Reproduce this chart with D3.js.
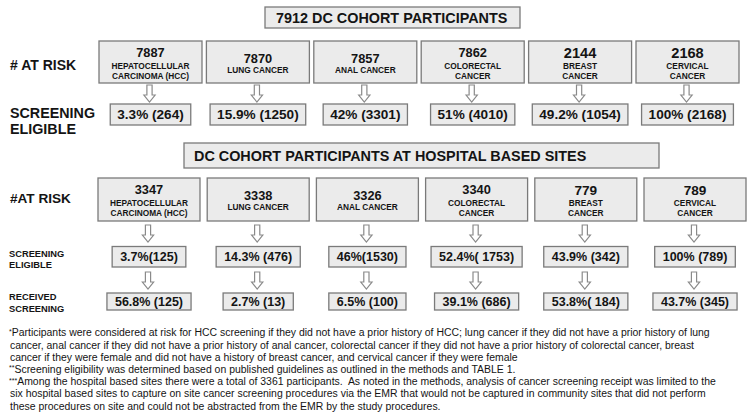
<!DOCTYPE html>
<html>
<head>
<meta charset="utf-8">
<script src="https://cdn.jsdelivr.net/npm/d3@7"></script>
<style>
  html, body { margin: 0; padding: 0; background: #fff; }
  svg { display: block; font-family: "Liberation Sans", Arial, sans-serif; }
</style>
</head>
<body>
<svg id="chart" width="750" height="414"></svg>
<script>
// ---------------- DATA ----------------
const categories = ["HCC", "Lung", "Anal", "Colorectal", "Breast", "Cervical"];
const categoryNames = [
  ["HEPATOCELLULAR", "CARCINOMA (HCC)"],
  ["LUNG CANCER"],
  ["ANAL CANCER"],
  ["COLORECTAL", "CANCER"],
  ["BREAST", "CANCER"],
  ["CERVICAL", "CANCER"]
];
const femaleOnly = [false, false, false, false, true, true];

const cohortTitle = "7912 DC COHORT PARTICIPANTS";
const atRiskAll = [7887, 7870, 7857, 7862, 2144, 2168];
const eligibleAll = ["3.3% (264)", "15.9% (1250)", "42% (3301)", "51% (4010)", "49.2% (1054)", "100% (2168)"];

const hospitalTitle = "DC COHORT PARTICIPANTS AT HOSPITAL BASED SITES";
const atRiskHospital = [3347, 3338, 3326, 3340, 779, 789];
const eligibleHospital = ["3.7%(125)", "14.3% (476)", "46%(1530)", "52.4%( 1753)", "43.9% (342)", "100% (789)"];
const receivedHospital = ["56.8% (125)", "2.7% (13)", "6.5% (100)", "39.1% (686)", "53.8%( 184)", "43.7% (345)"];

const rowLabelsTop = [["# AT RISK"], ["SCREENING", "ELIGIBLE"]];
const rowLabelsBottom = [["#AT RISK"], ["SCREENING", "ELIGIBLE"], ["RECEIVED", "SCREENING"]];

const footnotes = [
  ["*", "Participants were considered at risk for HCC screening if they did not have a prior history of HCC; lung cancer if they did not have a prior history of lung"],
  ["", "cancer, anal cancer if they did not have a prior history of anal cancer, colorectal cancer if they did not have a prior history of colorectal cancer, breast"],
  ["", "cancer if they were female and did not have a history of breast cancer, and cervical cancer if they were female"],
  ["**", "Screening eligibility was determined based on published guidelines as outlined in the methods and TABLE 1."],
  ["***", "Among the hospital based sites there were a total of 3361 participants.\u00a0 As noted in the methods, analysis of cancer screening receipt was limited to the"],
  ["", "six hospital based sites to capture on site cancer screening procedures via the EMR that would not be captured in community sites that did not perform"],
  ["", "these procedures on site and could not be abstracted from the EMR by the study procedures."]
];

// ---------------- STYLE ----------------
const FILL = "#ebebeb", STROKE = "#7a7a7a", INK = "#141414", ARROW = "#8a8a8a";

const svg = d3.select("#chart");
const g = svg.append("g");

const x1 = d3.scaleBand().domain(categories).range([99, 739]).paddingInner(0.041);
const x2 = d3.scaleBand().domain(categories).range([98, 746]).paddingInner(0.066);
const cx = (sc, c) => sc(c) + sc.bandwidth() / 2;

function txt(parent, x, y, s, size, weight, anchor) {
  return parent.append("text").attr("x", x).attr("y", y)
    .attr("font-size", size).attr("font-weight", weight || "bold")
    .attr("text-anchor", anchor || "middle").attr("fill", INK).text(s);
}
function rect(parent, x, y, w, h) {
  return parent.append("rect").attr("x", x).attr("y", y).attr("width", w).attr("height", h)
    .attr("fill", FILL).attr("stroke", STROKE).attr("stroke-width", 1.3);
}
// hollow down arrow
function arrow(parent, x, y0, y1) {
  const sw = 2.6, hw = 5.6, hh = 7;
  const yh = y1 - hh;
  const pts = [[x - sw, y0], [x + sw, y0], [x + sw, yh], [x + hw, yh], [x, y1], [x - hw, yh], [x - sw, yh]];
  parent.append("path").attr("d", d3.line()(pts) + "Z")
    .attr("fill", "#fff").attr("stroke", ARROW).attr("stroke-width", 1.2).attr("stroke-linejoin", "miter");
}
// box sized to its text
function labelBox(parent, x, yTop, h, s, size, pad) {
  const gg = parent.append("g");
  const t = txt(gg, x, yTop + h / 2 + size * 0.36, s, size);
  const w = t.node().getComputedTextLength() + pad * 2;
  gg.insert("rect", "text").attr("x", x - w / 2).attr("y", yTop).attr("width", w).attr("height", h)
    .attr("fill", FILL).attr("stroke", STROKE).attr("stroke-width", 1.3);
}
// at-risk box
function riskBox(parent, sc, c, i, yTop, h, n, numSize) {
  const x0 = sc(c), w = sc.bandwidth(), xc = cx(sc, c);
  rect(parent, x0, yTop, w, h);
  const lines = categoryNames[i];
  if (lines.length === 2) {
    txt(parent, xc, yTop + 16.2 + (numSize - 12.8) * 0.6, n, numSize);
    txt(parent, xc, yTop + 27.6, lines[0], 8.3);
    txt(parent, xc, yTop + 37.6, lines[1], 8.3);
  } else {
    txt(parent, xc, yTop + 21.5, n, numSize);
    txt(parent, xc, yTop + 31.8, lines[0], 8.3);
  }
}

// ---------------- TOP SECTION ----------------
rect(g, 265, 7, 255, 21);
txt(g, 276, 22.5, cohortTitle, 14.4, "bold", "start");

txt(g, 10, 70, rowLabelsTop[0][0], 14, "bold", "start");
txt(g, 10, 118, rowLabelsTop[1][0], 14.3, "bold", "start");
txt(g, 10, 133.5, rowLabelsTop[1][1], 14.3, "bold", "start");

categories.forEach((c, i) => {
  riskBox(g, x1, c, i, 41, 42, atRiskAll[i], femaleOnly[i] ? 14.6 : 12.8);
  arrow(g, cx(x1, c) - 1, 85, 102);
  labelBox(g, cx(x1, c), 104, 21, eligibleAll[i], 13.6, 7);
});

// ---------------- HOSPITAL SECTION ----------------
rect(g, 184, 143, 475, 25);
txt(g, 194, 160.6, hospitalTitle, 14.4, "bold", "start");

txt(g, 10, 203, rowLabelsBottom[0][0], 13.6, "bold", "start");
txt(g, 9, 256.5, rowLabelsBottom[1][0], 9.3, "bold", "start");
txt(g, 9, 267.8, rowLabelsBottom[1][1], 9.3, "bold", "start");
txt(g, 9, 300, rowLabelsBottom[2][0], 9.3, "bold", "start");
txt(g, 9, 311.5, rowLabelsBottom[2][1], 9.3, "bold", "start");

categories.forEach((c, i) => {
  riskBox(g, x2, c, i, 178, 43, atRiskHospital[i], femaleOnly[i] ? 13.6 : 12.8);
  arrow(g, cx(x2, c) - 1, 225, 242);
  labelBox(g, cx(x2, c), 246.5, 20.5, eligibleHospital[i], 12.5, 8);
  arrow(g, cx(x2, c) - 1, 272, 289);
  labelBox(g, cx(x2, c), 293, 17, receivedHospital[i], 12.5, 8);
});

// ---------------- FOOTNOTES ----------------
const fy = d3.scaleLinear().domain([0, footnotes.length - 1]).range([336.3, 409.5]);
footnotes.forEach((f, i) => {
  const t = g.append("text").attr("x", 9).attr("y", fy(i)).attr("font-size", 10.45)
    .attr("fill", INK).attr("font-weight", "normal");
  if (f[0]) {
    t.append("tspan").attr("font-size", 7).attr("dy", -2.5).text(f[0]);
    t.append("tspan").attr("dy", 2.5).text(f[1]);
  } else {
    t.append("tspan").attr("dx", 1).text(f[1]);
  }
});
</script>
</body>
</html>
